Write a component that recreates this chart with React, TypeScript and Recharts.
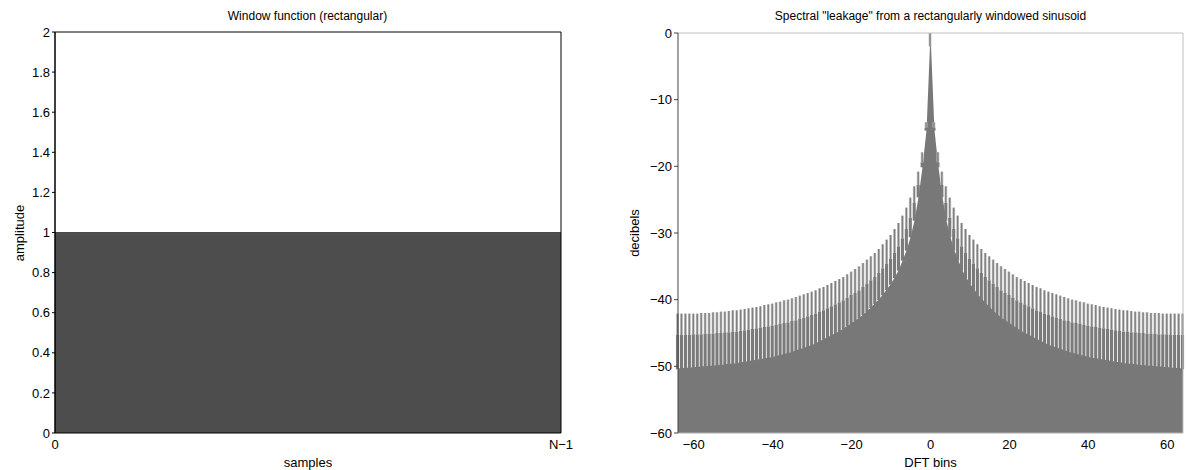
import React from 'react';
import { ComposedChart, Area, Bar, XAxis, YAxis, Label } from 'recharts';

// ---------- Left panel: rectangular window ----------
const N = 64;
const windowSamples = [0, N - 1];
const windowAmplitude = [1, 1];
const windowXTicks = [0, N - 1];
const windowXTickLabels = ['0', 'N\u22121'];
const windowYTicks = [0, 0.2, 0.4, 0.6, 0.8, 1, 1.2, 1.4, 1.6, 1.8, 2];
const windowTopTicks = [0, 1, 2, 3, 4, 5, 6, 7, 8].map((i) => (i * (N - 1)) / 8);

// ---------- Right panel: spectral leakage (dB), positive side k = 0..64, mirrored ----------
const FLOOR = -60;
const peakTop = [
  0, -13.4, -17.9, -20.8, -23.0, -24.7, -26.2, -27.4, -28.5, -29.4,
  -30.3, -31.0, -31.7, -32.4, -33.0, -33.5, -34.0, -34.5, -35.0, -35.4,
  -35.8, -36.2, -36.6, -36.9, -37.2, -37.5, -37.8, -38.1, -38.3, -38.6,
  -38.8, -39.0, -39.2, -39.4, -39.6, -39.8, -40.0, -40.1, -40.3, -40.4,
  -40.6, -40.7, -40.8, -41.0, -41.1, -41.2, -41.3, -41.4, -41.5, -41.6,
  -41.6, -41.7, -41.8, -41.8, -41.9, -41.9, -42.0, -42.0, -42.0, -42.1,
  -42.1, -42.1, -42.1, -42.1, -42.1,
];
const peakMid = [
  -2, -14.2, -19.4, -22.8, -25.5, -27.7, -29.4, -30.8, -32.0, -33.0,
  -33.9, -34.6, -35.3, -36.0, -36.6, -37.1, -37.6, -38.1, -38.6, -39.0,
  -39.3, -39.7, -40.1, -40.4, -40.7, -41.0, -41.3, -41.6, -41.8, -42.1,
  -42.3, -42.5, -42.7, -42.9, -43.1, -43.2, -43.4, -43.5, -43.6, -43.8,
  -43.9, -44.0, -44.1, -44.2, -44.3, -44.4, -44.5, -44.6, -44.7, -44.8,
  -44.8, -44.9, -44.9, -45.0, -45.0, -45.1, -45.1, -45.1, -45.2, -45.2,
  -45.2, -45.3, -45.3, -45.3, -45.3,
];
const floorEnvelope = [
  0, -14.5, -20.0, -24.5, -28.0, -30.5, -32.5, -34.0, -35.5, -36.6,
  -37.6, -38.4, -39.2, -39.9, -40.5, -41.1, -41.7, -42.2, -42.7, -43.1,
  -43.5, -43.9, -44.3, -44.7, -45.0, -45.3, -45.6, -45.9, -46.2, -46.5,
  -46.8, -47.0, -47.2, -47.4, -47.6, -47.8, -48.0, -48.1, -48.3, -48.4,
  -48.6, -48.7, -48.8, -48.9, -49.0, -49.1, -49.2, -49.3, -49.4, -49.5,
  -49.6, -49.6, -49.7, -49.8, -49.8, -49.9, -49.9, -50.0, -50.0, -50.1,
  -50.1, -50.2, -50.2, -50.3, -50.3,
];
const dftXTicks = [-60, -40, -20, 0, 20, 40, 60];
const dbYTicks = [-60, -50, -40, -30, -20, -10, 0];

const windowData = windowSamples.map((n, i) => ({ n, amp: windowAmplitude[i] }));

const spectrumData: { k: number; top: number; mid: number; low: number }[] = [];
for (let k = -64; k <= 64; k++) {
  const a = Math.abs(k);
  spectrumData.push({ k, top: peakTop[a], mid: peakMid[a], low: floorEnvelope[a] });
}

const minus = (v: number) => (v < 0 ? '\u2212' + Math.abs(v) : String(v));

const FONT = '"Liberation Sans", Arial, Helvetica, sans-serif';
const tickStyle = { fontSize: 13, fill: '#000', fontFamily: FONT };

const Spike = (props: any) => {
  const { x, y, width, height, payload } = props;
  if (x == null || y == null || !payload) return null;
  const cx = x + (width || 0) / 2;
  const yTop = Math.min(y, y + height);
  const yBot = Math.max(y, y + height);
  const span = payload.top - FLOOR;
  const px = (v: number) => yBot - ((v - FLOOR) / span) * (yBot - yTop);
  const pTop = px(payload.top);
  const pMid = px(payload.mid);
  const pLow = px(payload.low);
  return (
    <g>
      <rect x={cx - 1.4} y={pTop} width={2.8} height={Math.max(0, pMid - pTop)} fill="#c4c4c4" />
      <rect x={cx - 0.7} y={pTop} width={1.4} height={Math.max(0, pMid - pTop)} fill="#808080" />
      <rect x={cx - 1.55} y={pMid} width={3.1} height={Math.max(0, pLow - pMid + 1)} fill="#7a7a7a" />
    </g>
  );
};

const VLabel = (text: string, x: number) => () => (
  <text
    x={x}
    y={233}
    transform={`rotate(-90 ${x} 233)`}
    textAnchor="middle"
    dominantBaseline="central"
    fontSize={13}
    fontFamily={FONT}
    fill="#000"
  >
    {text}
  </text>
);

export default function App() {
  return (
    <div
      style={{
        position: 'absolute',
        left: 0,
        top: 0,
        width: 1186,
        height: 470,
        background: '#fff',
        fontFamily: FONT,
        overflow: 'hidden',
      }}
    >
      <div
        style={{ position: 'absolute', left: 55, width: 505, top: 9, textAlign: 'center', fontSize: 12, color: '#000' }}
      >
        Window function (rectangular)
      </div>
      <div
        style={{ position: 'absolute', left: 678, width: 505, top: 9, textAlign: 'center', fontSize: 12, color: '#000' }}
      >
        Spectral "leakage" from a rectangularly windowed sinusoid
      </div>

      <div style={{ position: 'absolute', left: 0, top: 0 }}>
        <ComposedChart width={600} height={470} data={windowData} margin={{ top: 32, right: 39, bottom: 1, left: 0 }}>
          <XAxis
            xAxisId="b"
            type="number"
            dataKey="n"
            domain={[0, N - 1]}
            ticks={windowXTicks}
            tickFormatter={(v: number) => windowXTickLabels[windowXTicks.indexOf(v)] ?? ''}
            height={36}
            axisLine={{ stroke: '#000' }}
            tickLine={false}
            tickSize={4}
            tickMargin={3}
            tick={tickStyle}
            interval={0}
          >
            <Label value="samples" position="insideBottom" offset={2} style={{ fontSize: 13, fill: '#000', fontFamily: FONT }} />
          </XAxis>
          <XAxis
            xAxisId="t"
            orientation="top"
            type="number"
            domain={[0, N - 1]}
            ticks={windowTopTicks}
            height={1}
            mirror
            tick={false}
            tickSize={4}
            axisLine={{ stroke: '#000' }}
            tickLine={{ stroke: '#000' }}
            interval={0}
          />
          <YAxis
            yAxisId="l"
            type="number"
            domain={[0, 2]}
            ticks={windowYTicks}
            width={55}
            tickSize={3}
            tickMargin={2}
            tick={tickStyle}
            axisLine={{ stroke: '#000', strokeWidth: 1.5 }}
            tickLine={{ stroke: '#000' }}
            interval={0}
          >
            <Label content={VLabel('amplitude', 19)} />
          </YAxis>
          <YAxis
            yAxisId="r"
            orientation="right"
            type="number"
            domain={[0, 2]}
            ticks={windowYTicks}
            width={1}
            mirror
            tick={false}
            tickSize={3}
            axisLine={{ stroke: '#000' }}
            tickLine={{ stroke: '#000' }}
            interval={0}
          />
          <Area
            xAxisId="b"
            yAxisId="l"
            dataKey="amp"
            type="linear"
            fill="#4d4d4d"
            fillOpacity={1}
            stroke="#4a4a4a"
            strokeWidth={1}
            baseValue="dataMin"
            isAnimationActive={false}
            dot={false}
            activeDot={false}
          />
        </ComposedChart>
      </div>

      <div style={{ position: 'absolute', left: 590, top: 0 }}>
        <ComposedChart width={596} height={470} data={spectrumData} margin={{ top: 32, right: 2, bottom: 1, left: 0 }}>
          <XAxis
            xAxisId="b"
            type="number"
            dataKey="k"
            domain={[-64, 64]}
            ticks={dftXTicks}
            tickFormatter={minus}
            height={36}
            axisLine={{ stroke: '#b0b0b0' }}
            tickLine={false}
            tickSize={4}
            tickMargin={3}
            tick={tickStyle}
            interval={0}
          >
            <Label value="DFT bins" position="insideBottom" offset={2} style={{ fontSize: 13, fill: '#000', fontFamily: FONT }} />
          </XAxis>
          <XAxis
            xAxisId="t"
            orientation="top"
            type="number"
            domain={[-64, 64]}
            height={1}
            tick={false}
            tickLine={false}
            axisLine={{ stroke: '#c0c0c0' }}
          />
          <YAxis
            yAxisId="l"
            type="number"
            domain={[FLOOR, 0]}
            ticks={dbYTicks}
            tickFormatter={minus}
            width={88}
            tickSize={4}
            tickMargin={2}
            tick={tickStyle}
            axisLine={{ stroke: '#444' }}
            tickLine={{ stroke: '#444' }}
            interval={0}
          >
            <Label content={VLabel('decibels', 44)} />
          </YAxis>
          <YAxis
            yAxisId="r"
            orientation="right"
            type="number"
            domain={[FLOOR, 0]}
            width={1}
            tick={false}
            tickLine={false}
            axisLine={{ stroke: '#c0c0c0' }}
          />
          <Area
            xAxisId="b"
            yAxisId="l"
            dataKey="low"
            type="linear"
            fill="#787878"
            fillOpacity={1}
            stroke="none"
            baseValue="dataMin"
            isAnimationActive={false}
            dot={false}
            activeDot={false}
          />
          <Bar
            xAxisId="b"
            yAxisId="l"
            dataKey={(d: any) => [FLOOR, d.top]}
            barSize={3}
            shape={Spike}
            isAnimationActive={false}
          />
        </ComposedChart>
      </div>
    </div>
  );
}
